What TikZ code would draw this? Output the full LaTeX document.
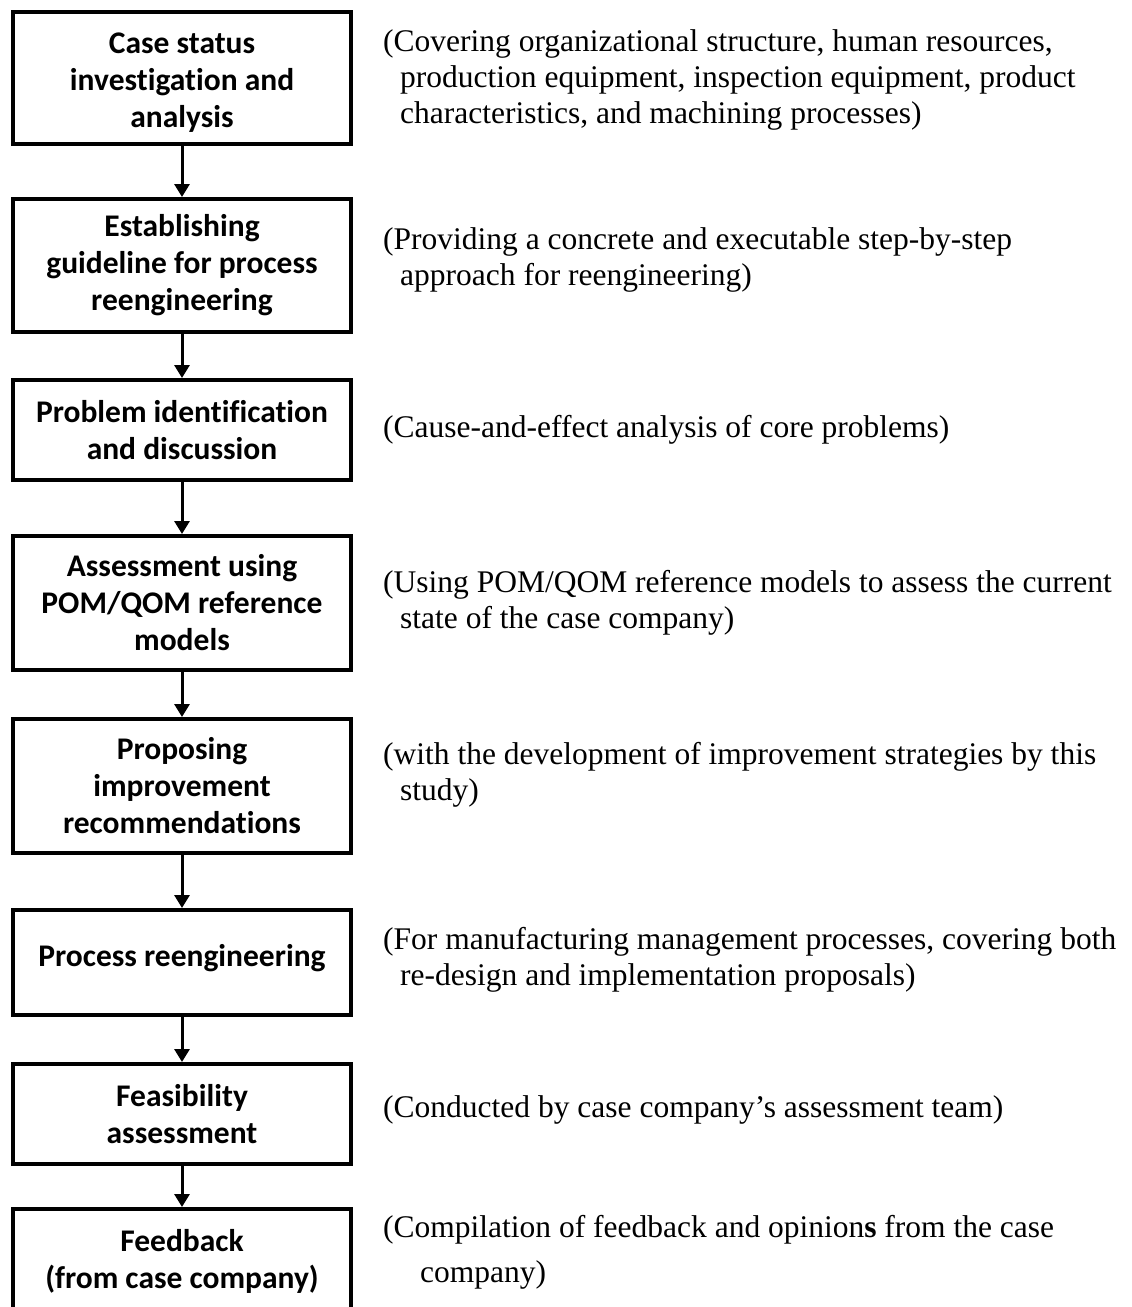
\documentclass[tikz,border=0pt]{standalone}
\usepackage{fontspec}
\setmainfont{Liberation Serif}
\newfontfamily\boxfont{Carlito}[Ligatures=NoCommon]
\usetikzlibrary{arrows.meta}
\newcommand{\cont}{\hspace*{17pt}}
\begin{document}
\begin{tikzpicture}[x=1pt,y=-1pt,
  boxtext/.style={inner sep=0pt, align=center,
    font=\boxfont\bfseries\fontsize{31.5}{37}\selectfont},
  stepbox/.style={draw, line width=4pt, minimum width=338pt, boxtext},
  note/.style={anchor=west, align=left, inner sep=0pt,
    font=\fontsize{31.5}{36}\selectfont},
  flow/.style={line width=3pt, -{Triangle[length=13pt,width=15pt]}}]
\useasboundingbox (0,0) rectangle (1132,1307);
\clip (0,0) rectangle (1132,1307);

% process steps
\node[stepbox, minimum height=132pt] (b1) at (182,78) {};
\node[boxtext] (b1text) at (182,83)
  {Case status\\investigation and\\analysis};
\node[stepbox, minimum height=133pt] (b2) at (182,265.5)
  {Establishing\\guideline for process\\reengineering};
\node[stepbox, minimum height=100pt] (b3) at (182,430)
  {Problem identification\\and discussion};
\node[stepbox, minimum height=134pt] (b4) at (182,603)
  {Assessment using\\POM/QOM reference\\models};
\node[stepbox, minimum height=134pt] (b5) at (182,786)
  {Proposing\\improvement\\recommendations};
\node[stepbox, minimum height=105pt, text depth=14pt] (b6) at (182,962.5)
  {Process reengineering};
\node[stepbox, minimum height=100pt] (b7) at (182,1114)
  {Feasibility\\assessment};
\node[stepbox, minimum height=104pt] (b8) at (182,1261)
  {Feedback\\(from case company)};

% connectors
\draw[flow] (b1) -- (b2);
\draw[flow] (b2) -- (b3);
\draw[flow] (b3) -- (b4);
\draw[flow] (b4) -- (b5);
\draw[flow] (b5) -- (b6);
\draw[flow] (b6) -- (b7);
\draw[flow] (b7) -- (b8);

% descriptions
\node[note] (d1) at (383,80)
  {(Covering organizational structure, human resources,\\
   \cont production equipment, inspection equipment, product\\
   \cont characteristics, and machining processes)};
\node[note] (d2) at (383,260)
  {(Providing a concrete and executable step-by-step\\
   \cont approach for reengineering)};
\node[note] (d3) at (383,430)
  {(Cause-and-effect analysis of core problems)};
\node[note] (d4) at (383,603)
  {(Using POM/QOM reference models to assess the current\\
   \cont state of the case company)};
\node[note] (d5) at (383,775)
  {(with the development of improvement strategies by this\\
   \cont study)};
\node[note] (d6) at (383,960)
  {(For manufacturing management processes, covering both\\
   \cont re-design and implementation proposals)};
\node[note] (d7) at (383,1110)
  {(Conducted by case company’s assessment team)};
\node[note, font=\fontsize{31.5}{45}\selectfont] (d8) at (383,1252)
  {(Compilation of feedback and opinion\textbf{s} from the case\\
   \hspace*{37pt}company)};
\end{tikzpicture}
\end{document}
